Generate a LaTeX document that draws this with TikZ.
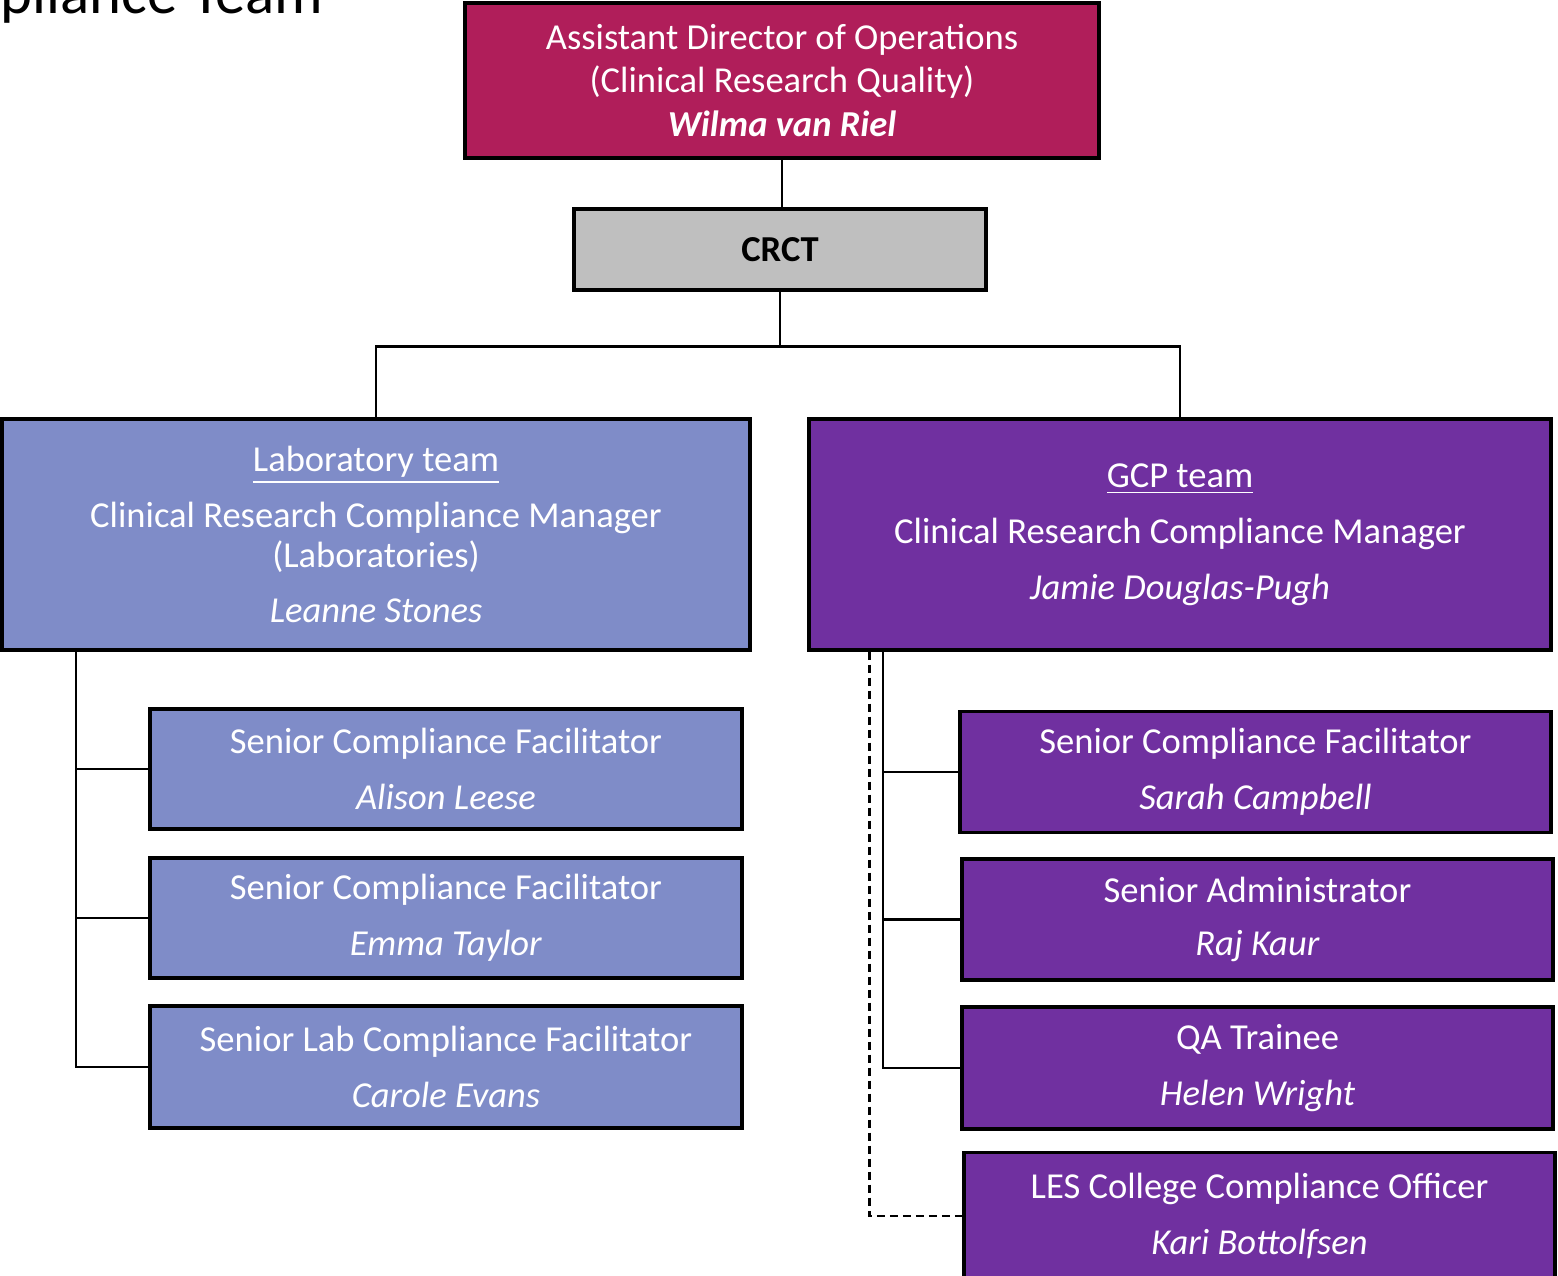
\documentclass[tikz,border=0pt]{standalone}
\usepackage{fontspec}
\setmainfont{Carlito}
\usepackage{tikz}
\usetikzlibrary{positioning}

\definecolor{adored}{RGB}{176,30,90}
\definecolor{crctgrey}{RGB}{191,191,191}
\definecolor{labblue}{RGB}{127,140,200}
\definecolor{gcppurple}{RGB}{112,48,160}

\begin{document}
\begin{tikzpicture}[
    box/.style={draw, line width=0.9pt, rectangle, inner sep=0pt, align=center, text=white,
        font=\fontsize{10.4}{11.4}\selectfont},
    labbox/.style={box, fill=labblue, minimum width=5.92cm, minimum height=1.2cm},
    gcpbox/.style={box, fill=gcppurple, minimum width=5.91cm, minimum height=1.21cm},
    link/.style={line width=0.7pt}
]
\useasboundingbox (0,0) rectangle (15.58,12.75);

% cut-off slide title
\node[anchor=base west, inner sep=0pt, font=\fontsize{17.3}{20}\selectfont] (ttl) at (0,12.61) {pliance Team};

\node[box, fill=adored, minimum width=6.34cm, minimum height=1.55cm, font=\fontsize{10.4}{12.5}\selectfont] (ado) at (7.82,11.945)
    {Assistant Director of Operations\\(Clinical Research Quality)\\\textbf{\textit{Wilma van Riel}}};
\node[box, fill=crctgrey, text=black, minimum width=4.12cm, minimum height=0.81cm] (crct) at (7.80,10.255) {\textbf{CRCT}};

\node[box, fill=labblue, minimum width=7.48cm, minimum height=2.31cm] (lab) at (3.76,7.405)
    {\underline{Laboratory team}\\[4.5pt]Clinical Research Compliance Manager\\(Laboratories)\\[4.5pt]\textit{Leanne Stones}};
\node[box, fill=gcppurple, minimum width=7.42cm, minimum height=2.31cm] (gcp) at (11.80,7.405)
    {\underline{GCP team}\\[4.5pt]Clinical Research Compliance Manager\\[4.5pt]\textit{Jamie Douglas-Pugh}};

% laboratory team
\node[labbox] (lsf1) at (4.46,5.06) {Senior Compliance Facilitator\\[4.5pt]\textit{Alison Leese}};
\node[labbox] (lsf2) at (4.46,3.57) {Senior Compliance Facilitator\\[4.5pt]\textit{Emma Taylor}};
\node[labbox, minimum height=1.22cm] (llab) at (4.46,2.08) {Senior Lab Compliance Facilitator\\[4.5pt]\textit{Carole Evans}};

% GCP team
\node[gcpbox] (gsf) at (12.555,5.03) {Senior Compliance Facilitator\\[4.5pt]\textit{Sarah Campbell}};
\node[gcpbox] (gsa) at (12.575,3.555) {Senior Administrator\\[3.5pt]\textit{Raj Kaur}};
\node[gcpbox, minimum height=1.22cm] (gqa) at (12.575,2.07) {QA Trainee\\[4.5pt]\textit{Helen Wright}};
\node[gcpbox, minimum height=1.27cm] (gles) at (12.595,0.59) {LES College Compliance Officer\\[4.5pt]\textit{Kari Bottolfsen}};

\coordinate (lspine) at (0.76,0);
\coordinate (rspine) at (8.83,0);
\coordinate (dspine) at (8.69,0);

\draw[link] (ado.south) -- (ado.south |- crct.north);
\draw[link] (crct.south) -- ++(0,-0.55) -| (lab.north);
\draw[link] (crct.south) -- ++(0,-0.55) -| (gcp.north);

\draw[link] (lab.south -| lspine) |- (llab.west);
\foreach \n in {lsf1,lsf2}
    \draw[link] (lspine |- \n.west) -- (\n.west);

\draw[link] (gcp.south -| rspine) |- (gqa.west);
\foreach \n in {gsf,gsa}
    \draw[link] (rspine |- \n.west) -- (\n.west);
\draw[link, line width=0.85pt, dash pattern=on 2.4pt off 1.3pt] (gcp.south -| dspine) |- (gles.west);
\end{tikzpicture}
\end{document}
